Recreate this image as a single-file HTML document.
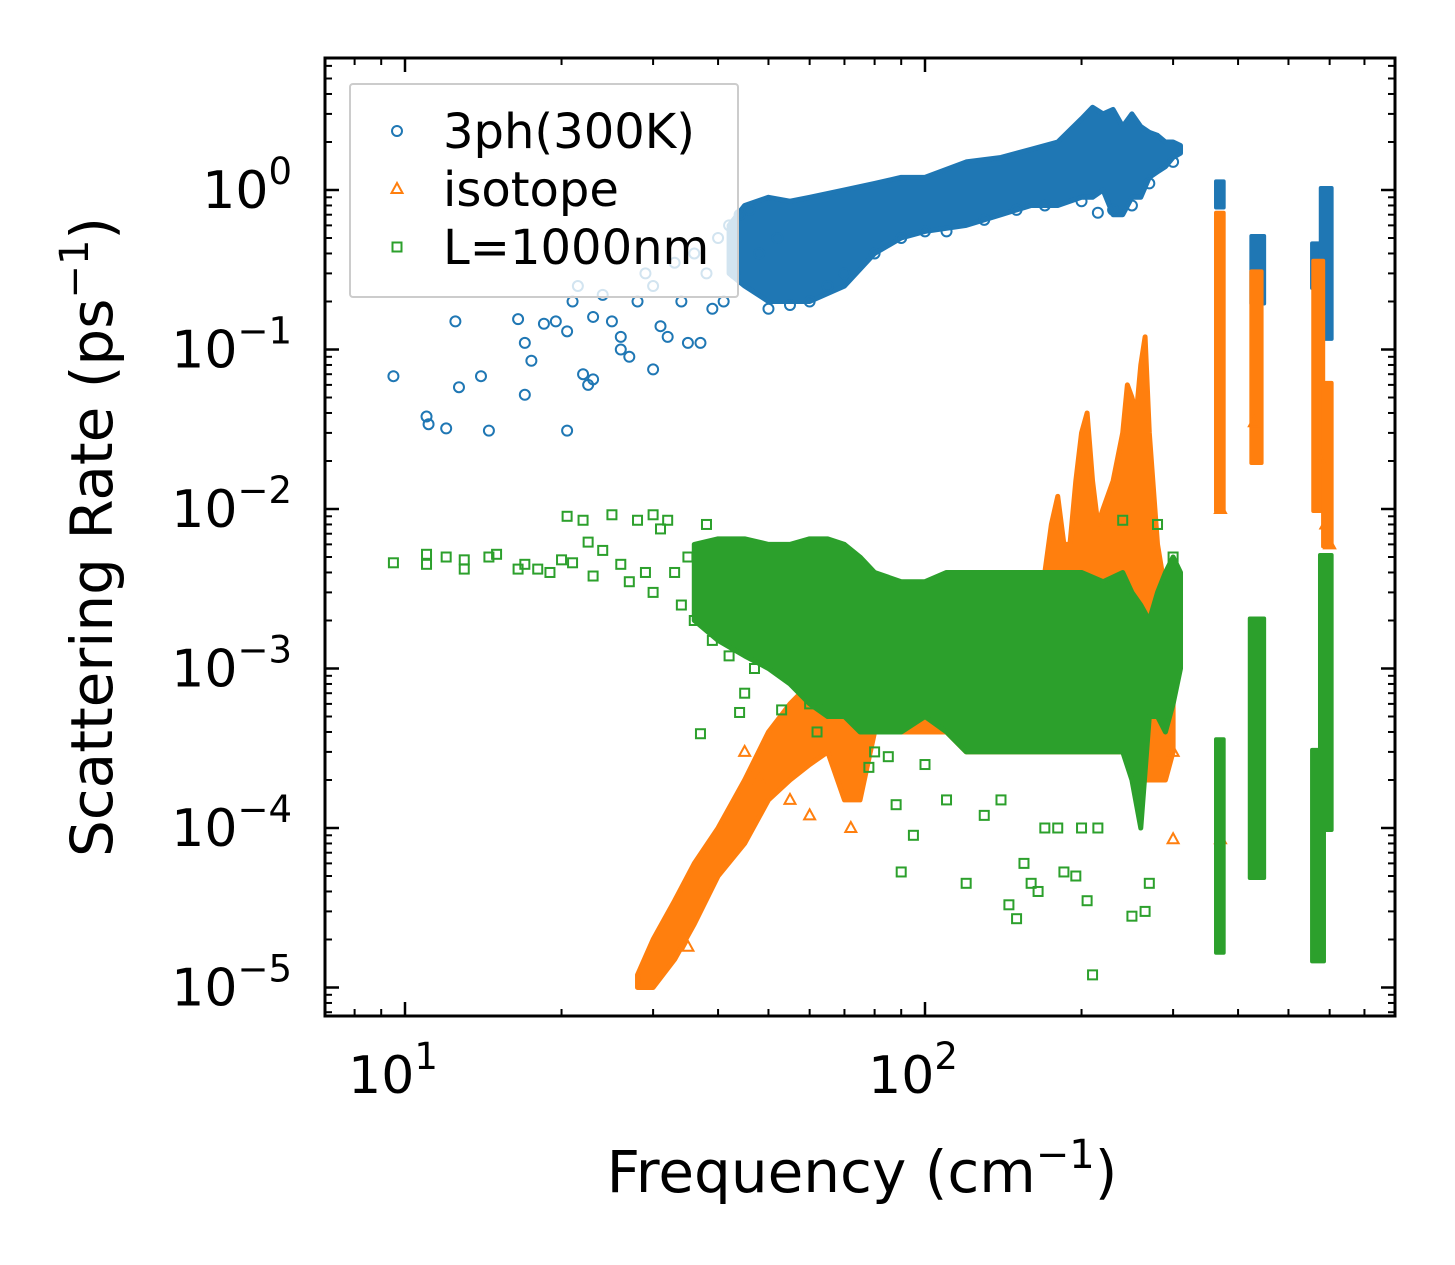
<!DOCTYPE html>
<html><head><meta charset="utf-8"><style>
html,body{margin:0;padding:0;background:#fff;}
svg{display:block;font-family:"DejaVu Sans","Liberation Sans",sans-serif;}
</style></head><body>
<svg id="chart" width="1455" height="1265" viewBox="0 0 1455 1265" xmlns="http://www.w3.org/2000/svg">
<defs><clipPath id="plotclip"><rect x="325" y="58" width="1070" height="958"/></clipPath></defs>
<rect x="0" y="0" width="1455" height="1265" fill="#fff"/>
<g id="data" clip-path="url(#plotclip)"></g>
<g id="axes"></g>
<g id="legend"></g>
<text x="862" y="1192" font-size="58" text-anchor="middle">Frequency (cm<tspan font-size="40" dy="-24">−1</tspan><tspan dy="24">)</tspan></text>
<text transform="translate(112,537) rotate(-90)" font-size="58" text-anchor="middle">Scattering Rate (ps<tspan font-size="40" dy="-24">−1</tspan><tspan dy="24">)</tspan></text>
</svg>
<script>
// ---- data (freq in cm^-1, rate in ps^-1) ----
const blueSparseF=[9.5,11,11.1,12,12.5,12.7,14,14.5,16.5,17,17.5,17,18.5,19.5,20.5,20.5,21,21.5,22,22.5,23,23,24,25,26,26,27,28,29,30,30,31,32,33,34,35,36,37,38,39,40,41,42,43,44,46,48,50,52,55,60,65,70,80,90,100,110,130,150,170,200,215,230,250,270,300];
const blueSparseR=[0.068,0.038,0.034,0.032,0.15,0.058,0.068,0.031,0.155,0.052,0.085,0.11,0.145,0.15,0.031,0.13,0.2,0.25,0.07,0.06,0.065,0.16,0.22,0.15,0.1,0.12,0.09,0.2,0.3,0.075,0.25,0.14,0.12,0.35,0.2,0.11,0.4,0.11,0.3,0.18,0.5,0.2,0.6,0.3,0.7,0.75,0.4,0.18,0.5,0.19,0.2,0.25,0.3,0.4,0.5,0.55,0.55,0.65,0.75,0.8,0.85,0.72,0.75,0.8,1.1,1.5];
const blueEnvF=[42,45,50,55,60,70,80,90,100,120,140,160,180,200,210,220,230,240,250,260,270,280,290,300,310];
const blueEnvHi=[0.6,0.8,0.9,0.85,0.9,1.0,1.1,1.2,1.2,1.5,1.6,1.8,2.0,2.8,3.3,3.0,3.2,2.5,3.0,2.5,2.3,2.2,2.0,2.0,1.9];
const blueEnvLo=[0.3,0.25,0.2,0.2,0.2,0.25,0.4,0.5,0.55,0.6,0.7,0.8,0.8,0.9,0.9,1.0,0.7,0.7,0.9,0.9,1.2,1.3,1.4,1.6,1.7];
const blueStripF0=[366,428,560,582], blueStripF1=[372,445,575,600], blueStripLo=[0.8,0.2,0.25,0.12], blueStripHi=[1.1,0.5,0.45,1.0];

const orSparseF=[35,45,48,55,60,72,370,370,300,300,430,575,590,600];
const orSparseR=[1.8e-5,3e-4,2e-4,1.5e-4,1.2e-4,1e-4,1e-2,8.5e-5,8.5e-5,3e-4,3.5e-2,2e-2,8e-3,6e-3];
const orEnvF=[28,30,33,36,40,45,50,55,60,65,70,72,75,80,90,100,110,120,140,160,170,175,180,185,190,195,200,205,210,215,220,230,240,245,250,255,260,265,270,280,290,300];
const orEnvHi=[1.2e-5,2e-5,3.5e-5,6e-5,1e-4,2e-4,4e-4,6e-4,8e-4,1e-3,1.2e-3,9e-4,6e-4,6e-4,7e-4,9e-4,1e-3,1e-3,1.2e-3,2e-3,4e-3,8e-3,1.2e-2,6e-3,6e-3,1.5e-2,3e-2,4e-2,1.5e-2,8e-3,1e-2,1.5e-2,3e-2,6e-2,5e-2,4e-2,8e-2,1.2e-1,3e-2,6e-3,3e-3,2e-3];
const orEnvLo=[1e-5,1e-5,1.5e-5,2.5e-5,5e-5,8e-5,1.5e-4,2e-4,2.5e-4,3e-4,1.5e-4,1.5e-4,1.5e-4,4e-4,4e-4,4e-4,4e-4,3e-4,3e-4,3e-4,3e-4,3e-4,3e-4,3e-4,3e-4,3e-4,3e-4,3e-4,3e-4,3e-4,3e-4,3e-4,3e-4,3e-4,3e-4,3e-4,2e-4,2e-4,2e-4,2e-4,2e-4,3e-4];
const orStripF0=[366,428,563,588], orStripF1=[372,440,578,600], orStripLo=[0.01,0.02,0.01,6e-3], orStripHi=[0.7,0.3,0.35,0.06];

const grSparseF=[9.5,11,11,12,13,13,14.5,15,16.5,17,18,19,20,20.5,21,22,22.5,23,24,25,26,27,28,29,30,30,31,32,33,34,35,36,37,38,39,42,44,45,47,53,60,62,65,78,80,85,88,90,95,100,110,120,130,140,145,150,155,160,165,170,180,185,195,200,205,210,215,240,250,265,270,280,300];
const grSparseR=[4.6e-3,4.5e-3,5.2e-3,5e-3,4.2e-3,4.8e-3,5e-3,5.2e-3,4.2e-3,4.5e-3,4.2e-3,4e-3,4.8e-3,9e-3,4.6e-3,8.5e-3,6.2e-3,3.8e-3,5.5e-3,9.2e-3,4.5e-3,3.5e-3,8.5e-3,4e-3,9.2e-3,3e-3,7.5e-3,8.5e-3,4e-3,2.5e-3,5e-3,2e-3,3.9e-4,8e-3,1.5e-3,1.2e-3,5.3e-4,7e-4,1e-3,5.5e-4,6e-4,4e-4,5.5e-4,2.4e-4,3e-4,2.8e-4,1.4e-4,5.3e-5,9e-5,2.5e-4,1.5e-4,4.5e-5,1.2e-4,1.5e-4,3.3e-5,2.7e-5,6e-5,4.5e-5,4e-5,1e-4,1e-4,5.3e-5,5e-5,1e-4,3.5e-5,1.2e-5,1e-4,8.5e-3,2.8e-5,3e-5,4.5e-5,8e-3,5e-3];
const grEnvF=[36,40,45,50,55,60,65,70,75,80,90,100,110,120,140,160,180,200,220,240,250,260,270,280,290,300,310];
const grEnvHi=[6e-3,6.5e-3,6.5e-3,6e-3,6e-3,6.5e-3,6.5e-3,6e-3,5e-3,4e-3,3.5e-3,3.5e-3,4e-3,4e-3,4e-3,4e-3,4e-3,4e-3,3.5e-3,4e-3,3e-3,2.5e-3,2e-3,3e-3,4e-3,5e-3,4e-3];
const grEnvLo=[2e-3,1.5e-3,1.2e-3,1e-3,8e-4,6e-4,5e-4,5e-4,4e-4,4e-4,4e-4,5e-4,4e-4,3e-4,3e-4,3e-4,3e-4,3e-4,3e-4,3e-4,2e-4,1e-4,5e-4,5e-4,4e-4,6e-4,1e-3];
const grStripF0=[366,425,560,580], grStripF1=[372,445,580,600], grStripLo=[1.7e-5,5e-5,1.5e-5,1e-4], grStripHi=[3.5e-4,2e-3,3e-4,5e-3];

const xMajor=[10,100], yMajorExp=[-5,-4,-3,-2,-1,0];

// ---- scales ----
const X0=325,X1=1395,Y0=58,Y1=1016;
function sx(f){return 405+520*(Math.log10(f)-1);}
function sy(r){return 190-159.5*Math.log10(r);}
const NS="http://www.w3.org/2000/svg";
function mk(t,a,p){const e=document.createElementNS(NS,t);for(const k in a)e.setAttribute(k,a[k]);p.appendChild(e);return e;}
const C={b:"#1f77b4",o:"#ff7f0e",g:"#2ca02c"};
const dataG=document.getElementById('data');

function envelope(F,Hi,Lo,col,name){
  let pts=F.map((f,i)=>sx(f)+','+sy(Hi[i]));
  for(let i=F.length-1;i>=0;i--)pts.push(sx(F[i])+','+sy(Lo[i]));
  const e=mk('polygon',{points:pts.join(' '),fill:col,stroke:col,'stroke-width':5,'stroke-linejoin':'round'},dataG);
  
  
}
function strips(F0,F1,Lo,Hi,col,name){
  F0.forEach((f,i)=>{
    const e=mk('rect',{x:sx(f)-4,y:sy(Hi[i])-4,width:sx(F1[i])-sx(f)+8,height:sy(Lo[i])-sy(Hi[i])+8,fill:col,rx:2},dataG);
    
    
  });
}
function marker(kind,x,y,col,parent){
  let e;
  if(kind==='b')e=mk('circle',{cx:x,cy:y,r:5,fill:'none',stroke:col,'stroke-width':2},parent);
  else if(kind==='o')e=mk('polygon',{points:`${x},${y-6} ${x-5.5},${y+4} ${x+5.5},${y+4}`,fill:'none',stroke:col,'stroke-width':2},parent);
  else e=mk('rect',{x:x-4.5,y:y-4.5,width:9,height:9,fill:'none',stroke:col,'stroke-width':2},parent);
  return e;
}
function sparse(F,R,kind,name){
  F.forEach((f,i)=>{
    const e=marker(kind,sx(f),sy(R[i]),C[kind],dataG);
    
    
  });
}
envelope(blueEnvF,blueEnvHi,blueEnvLo,C.b,'3ph-dense-region');
strips(blueStripF0,blueStripF1,blueStripLo,blueStripHi,C.b,'3ph-cluster');
sparse(blueSparseF,blueSparseR,'b','3ph-point');
envelope(orEnvF,orEnvHi,orEnvLo,C.o,'isotope-dense-region');
strips(orStripF0,orStripF1,orStripLo,orStripHi,C.o,'isotope-cluster');
sparse(orSparseF,orSparseR,'o','isotope-point');
envelope(grEnvF,grEnvHi,grEnvLo,C.g,'boundary-dense-region');
strips(grStripF0,grStripF1,grStripLo,grStripHi,C.g,'boundary-cluster');
sparse(grSparseF,grSparseR,'g','boundary-point');

// ---- axes ----
const ax=document.getElementById('axes');
const frame=mk('rect',{x:X0,y:Y0,width:X1-X0,height:Y1-Y0,fill:'none',stroke:'#000','stroke-width':3},ax);


for(let d=0;d<=2;d++)for(let m=1;m<=9;m++){
  const f=m*Math.pow(10,d);const x=sx(f);if(x<X0||x>X1)continue;
  const L=m===1?14:7;
  mk('line',{x1:x,y1:Y1,x2:x,y2:Y1-L,stroke:'#000','stroke-width':m===1?2.5:2},ax);
  mk('line',{x1:x,y1:Y0,x2:x,y2:Y0+L,stroke:'#000','stroke-width':m===1?2.5:2},ax);
}
for(let d=-6;d<=1;d++)for(let m=1;m<=9;m++){
  const r=m*Math.pow(10,d);const y=sy(r);if(y<Y0||y>Y1)continue;
  const L=m===1?14:7;
  mk('line',{x1:X0,y1:y,x2:X0+L,y2:y,stroke:'#000','stroke-width':m===1?2.5:2},ax);
  mk('line',{x1:X1,y1:y,x2:X1-L,y2:y,stroke:'#000','stroke-width':m===1?2.5:2},ax);
}
xMajor.forEach(f=>{
  const e=mk('text',{x:sx(f)-12,y:1093,'font-size':52,'text-anchor':'middle'},ax);
  
  
  e.innerHTML='10<tspan font-size="37" dy="-24">'+Math.round(Math.log10(f))+'</tspan>';
});
yMajorExp.forEach(p=>{
  const e=mk('text',{x:292,y:sy(Math.pow(10,p))+18,'font-size':52,'text-anchor':'end'},ax);
  
  
  e.innerHTML='10<tspan font-size="37" dy="-24">'+(p<0?'−'+(-p):p)+'</tspan>';
});

// ---- legend ----
const lg=document.getElementById('legend');
const box=mk('rect',{x:350,y:84,width:388,height:213,rx:3,fill:'rgba(255,255,255,0.8)',stroke:'#ccc','stroke-width':2},lg);


const legLabels=['3ph(300K)','isotope','L=1000nm'], legKinds=['b','o','g'];
legLabels.forEach((t,i)=>{
  const y=131+i*58;
  const m=marker(legKinds[i],397,y,C[legKinds[i]],lg);
  
  
  const e=mk('text',{x:443,y:y+17,'font-size':48},lg);
  
  
  e.textContent=t;
});
</script>
</body></html>
